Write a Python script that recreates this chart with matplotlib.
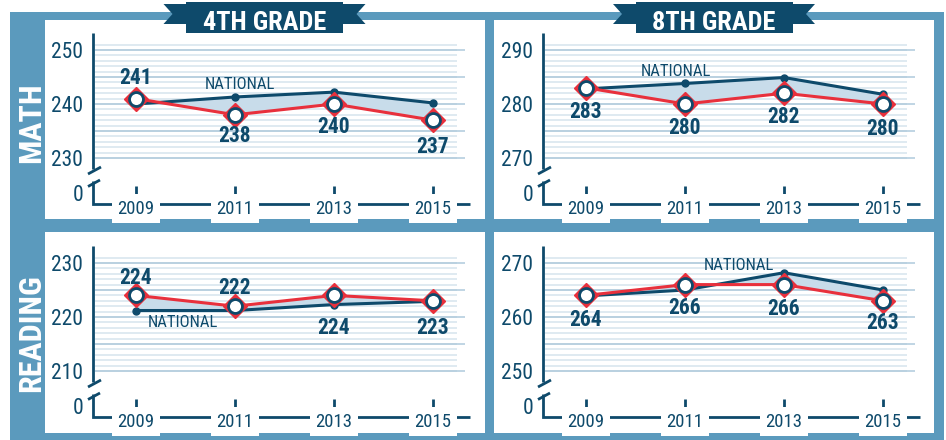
import numpy as np
import matplotlib
matplotlib.use('Agg')
import matplotlib.pyplot as plt
from matplotlib.patches import Rectangle, Polygon

plt.rcParams['font.family'] = ['Roboto Condensed', 'Liberation Sans', 'DejaVu Sans']

# data
years = [2009, 2011, 2013, 2015]
year_labels = ['2009', '2011', '2013', '2015']

math4_state = [241, 238, 240, 237]
math4_national = [240.0, 241.3, 242.2, 240.2]
math4_ticks = [230, 240, 250]

math8_state = [283, 280, 282, 280]
math8_national = [282.8, 283.8, 284.9, 281.8]
math8_ticks = [270, 280, 290]

read4_state = [224, 222, 224, 223]
read4_national = [221.2, 221.2, 222.3, 222.9]
read4_ticks = [210, 220, 230]

read8_state = [264, 266, 266, 263]
read8_national = [263.9, 265.0, 268.2, 265.0]
read8_ticks = [250, 260, 270]

grade_titles = ['4TH GRADE', '8TH GRADE']
subject_titles = ['MATH', 'READING']

# colours
FRAME = '#5b9abd'
NAVY = '#0e4a6b'
RED = '#e8303c'
FILL = '#c8dcea'
GRID_MAJOR = '#afcadc'
GRID_MINOR = '#dce8f0'

# layout (pixels)
W, H = 946, 440
X_PX = 49.5   # px per year
Y_PX = 5.4    # px per score point
AX_L, AX_T, AX_W, AX_H = 93, 33, 377, 171
LOW_TICK_FROM_BOTTOM = 46

# per panel: offsets, label offsets (px, down positive, point -> label centre), NATIONAL label centre
panels = [
    dict(state=math4_state, national=math4_national, ticks=math4_ticks, dx=0, dy=0,
         label_off=[-22, 20, 21, 25], nat_xy=(240, 83)),
    dict(state=math8_state, national=math8_national, ticks=math8_ticks, dx=450, dy=0,
         label_off=[23, 22, 22, 23], nat_xy=(676, 70)),
    dict(state=read4_state, national=read4_national, ticks=read4_ticks, dx=0, dy=213,
         label_off=[-19, -20, 31, 26], nat_xy=(183, 321)),
    dict(state=read8_state, national=read8_national, ticks=read8_ticks, dx=450, dy=213,
         label_off=[23, 22, 23, 21], nat_xy=(739, 264)),
]

fig = plt.figure(figsize=(W / 100, H / 100), dpi=100)
bg = fig.add_axes([0, 0, 1, 1], zorder=0)
bg.set_xlim(0, W)
bg.set_ylim(H, 0)
bg.axis('off')

# frame and white panels
bg.add_patch(Rectangle((10, 12), 934, 428, color=FRAME, lw=0))
for x0, y0, w, h in [(45, 20, 440, 199), (494, 20, 440, 199), (45, 232, 440, 201), (494, 232, 440, 201)]:
    bg.add_patch(Rectangle((x0, y0), w, h, color='white', lw=0))

# ribbons with grade titles
for cx, title in zip([264.5, 714], grade_titles):
    bg.add_patch(Rectangle((cx - 78.5, 2.5), 157, 30.5, color=NAVY, lw=0))
    for s in (-1, 1):
        bg.add_patch(Polygon([(cx + s * 78, 4), (cx + s * 101, 4), (cx + s * 92, 14),
                              (cx + s * 101, 24), (cx + s * 78, 24)], closed=True, color=NAVY, lw=0))
    bg.text(cx, 29.5, title, ha='center', va='baseline', color='white', fontsize=19, fontweight='bold')

# subject labels
for cy, title in zip([123, 333], subject_titles):
    bg.text(40, cy, title, rotation=90, rotation_mode='anchor', ha='center', va='baseline',
            color='white', fontsize=23, fontweight='bold')

for p in panels:
    dx, dy = p['dx'], p['dy']
    # axis with break
    axis_kw = dict(color=NAVY, lw=2, solid_joinstyle='miter', solid_capstyle='butt')
    bg.plot([93 + dx, 93 + dx], [33 + dy, 169 + dy], **axis_kw)
    bg.plot([88 + dx, 101 + dx], [174 + dy, 167 + dy], **axis_kw)
    bg.plot([88 + dx, 100 + dx], [186.5 + dy, 180 + dy], **axis_kw)
    bg.plot([93 + dx, 93 + dx, 470 + dx], [181 + dy, 204 + dy, 204 + dy], **axis_kw)

    ax = fig.add_axes([(AX_L + dx) / W, 1 - (AX_T + dy + AX_H) / H, AX_W / W, AX_H / H], zorder=1)
    ax.patch.set_alpha(0)
    for sp in ax.spines.values():
        sp.set_visible(False)

    low = p['ticks'][0]
    x0 = years[0] - (136 - AX_L) / X_PX
    y0 = low - LOW_TICK_FROM_BOTTOM / Y_PX
    ax.set_xlim(x0, x0 + AX_W / X_PX)
    ax.set_ylim(y0, y0 + AX_H / Y_PX)

    # grid
    ax.hlines(np.arange(low, low + 22), 0.005, 0.966, transform=ax.get_yaxis_transform(),
              color=GRID_MINOR, lw=1.3, zorder=0)
    ax.hlines(np.arange(low, low + 21, 5), 0.005, 0.987, transform=ax.get_yaxis_transform(),
              color=GRID_MAJOR, lw=1.1, zorder=0.5)

    # series
    ax.fill_between(years, p['state'], p['national'], color=FILL, lw=0, zorder=1)
    ax.plot(years, p['national'], color=NAVY, lw=2.2, marker='o', ms=5, zorder=2)
    ax.plot(years, p['state'], color=RED, lw=2.2, zorder=3)
    ax.plot(years, p['state'], ls='none', marker='D', ms=12.5, mfc=RED, mec=RED, zorder=4)
    ax.plot(years, p['state'], ls='none', marker='o', ms=10, mfc='white', mec=NAVY, mew=2, zorder=5)

    ax.text(p['nat_xy'][0], p['nat_xy'][1] + 6, 'NATIONAL', transform=bg.transData, ha='center',
            va='baseline', color=NAVY, fontsize=12, zorder=6)

    for yr, val, off in zip(years, p['state'], p['label_off']):
        ax.annotate(str(val), xy=(yr, val), xytext=(0, -(off + 7.5)), textcoords='offset pixels',
                    ha='center', va='baseline', color=NAVY, fontsize=15.5, fontweight='bold', zorder=6)

    # x ticks and year labels
    ax.vlines(years, 0.047, 0.105, transform=ax.get_xaxis_transform(), color=NAVY, lw=2)
    for yr, lbl in zip(years, year_labels):
        ax.annotate(lbl, xy=(yr, 0), xycoords=('data', 'axes fraction'), xytext=(0, -9.5),
                    textcoords='offset pixels', ha='center', va='baseline', color=NAVY, fontsize=13.5,
                    annotation_clip=False,
                    bbox=dict(boxstyle='square,pad=0.3', fc='white', ec='none'))

    ax.set_xticks([])
    ax.set_yticks([y0 + 11 / Y_PX] + p['ticks'])
    ax.set_yticklabels(['0'] + [str(t) for t in p['ticks']])
    ax.tick_params(axis='y', length=0, pad=7.2, labelsize=15.5, labelcolor=NAVY)

fig.savefig('out.png', dpi=100)
